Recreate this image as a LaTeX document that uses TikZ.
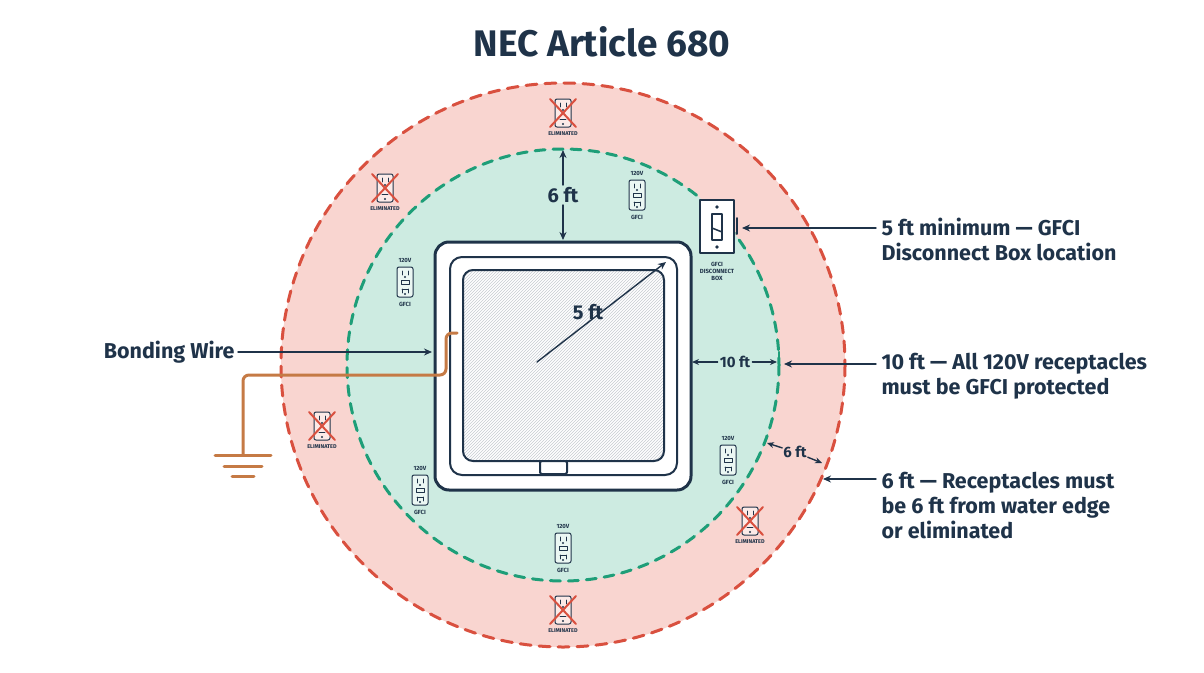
\documentclass[tikz,border=0pt]{standalone}
\usepackage{fontspec}
\setmainfont{Fira Sans}
\usetikzlibrary{arrows.meta,patterns,positioning}
\definecolor{navy}{HTML}{1F3349}
\definecolor{redzone}{HTML}{F9D5D0}
\definecolor{redline}{HTML}{D9503F}
\definecolor{greenzone}{HTML}{CDEBE1}
\definecolor{greenline}{HTML}{1E9E78}
\definecolor{copper}{HTML}{C57A45}
\tikzset{
  dim/.style={navy,line width=1.4pt,-{Stealth[length=8pt,width=7pt]}},
  note/.style={navy,font=\fontsize{21.5}{25}\selectfont\bfseries,align=left,anchor=west},
  tiny/.style={navy,font=\fontsize{6}{7}\selectfont\bfseries,align=center},
  receptacle/.pic={
    \draw[navy,line width=1pt,rounded corners=2pt,fill=white!60!greenzone] (-8,-15) rectangle (8,15);
    \draw[navy,line width=0.9pt] (-3,-11)--(-3,-7) (3,-11)--(3,-7) (-3,7)--(3,7) (-3,11)--(-3,7)
      (3,11)--(3,7);
    \draw[navy,line width=0.9pt] (-4,-2) rectangle (4,2);
    \fill[navy] (0,-5) circle (1.2pt) (0,12) circle (1.2pt);
    \node[tiny] at (0,-22) {120V};
    \node[tiny] at (0,22) {GFCI};
  },
  eliminated/.pic={
    \draw[navy,line width=1pt,rounded corners=2pt,fill=white!50!redzone] (-8,-14) rectangle (8,14);
    \draw[navy,line width=0.9pt] (-3,-10)--(-3,-6) (3,-10)--(3,-6) (-3,6)--(3,6);
    \fill[navy] (0,-3) circle (1.2pt) (0,11) circle (1.2pt);
    \draw[redline,line width=2pt] (-13,-14)--(13,14) (-13,14)--(13,-14);
    \node[tiny,font=\fontsize{5.5}{7}\selectfont\bfseries] at (0,21) {ELIMINATED};
  }
}
\begin{document}
\begin{tikzpicture}[x=1pt,y=-1pt,line cap=round,line join=round]
\useasboundingbox (0,0) rectangle (1204,672);
\node[navy,font=\fontsize{37}{40}\selectfont\bfseries] (title) at (602,42) {NEC Article 680};
% zones
\coordinate (c) at (563,365);
\fill[redzone] (c) circle (282);
\draw[redline,line width=3pt,dash pattern=on 11pt off 8pt] (c) circle (282);
\fill[greenzone] (c) circle (216);
\draw[greenline,line width=3pt,dash pattern=on 10pt off 8pt] (c) circle (216);
% spa
\draw[navy,line width=3pt,fill=white,rounded corners=14pt] (435,242) rectangle (691,490);
\draw[navy,line width=2pt,rounded corners=12pt] (450,257) rectangle (677,475);
\draw[navy,line width=2pt,rounded corners=10pt,fill=navy!6,pattern=north east lines,pattern color=navy!25] (463,270) rectangle (664,461);
\draw[navy,line width=2pt,fill=white,rounded corners=2pt] (540,461) rectangle (567,474);
% bonding wire and ground
\draw[copper,line width=3pt,rounded corners=6pt] (457,333) -- (446,333) -- (446,375) -- (243,375) -- (243,455);
\draw[copper,line width=3pt] (215,455) -- (271,455) (224,466) -- (262,466) (232,476) -- (254,476);
\node[note,anchor=east] (bond) at (238,352) {Bonding Wire};
\coordinate (bondtip) at (432,352);
\draw[dim] (bond) -- (bondtip);
% dimensions
\coordinate (g6top) at (563,150);
\coordinate (tubtop) at (563,240);
\node[navy,font=\fontsize{20}{22}\selectfont\bfseries,fill=greenzone,inner sep=2pt] (six) at (563,195) {6 ft};
\draw[dim] (six) -- (g6top);
\draw[dim] (six) -- (tubtop);
\coordinate (mid) at (537,362);
\coordinate (corner) at (666,262);
\draw[dim] (mid) -- (corner);
\node[navy,font=\fontsize{20}{22}\selectfont\bfseries] (five) at (588,312) {5 ft};
\node[navy,font=\fontsize{15}{16}\selectfont\bfseries,fill=greenzone,inner sep=2pt] (ten) at (735,362) {10 ft};
\coordinate (tubside) at (692,362);
\coordinate (gedge) at (777,362);
\draw[dim,-{Stealth[length=7pt,width=6pt]}] (ten) -- (tubside);
\draw[dim,-{Stealth[length=7pt,width=6pt]}] (ten) -- (gedge);
\draw[greenline,line width=2.5pt] (779,352) -- (779,372);
\node[navy,font=\fontsize{15}{16}\selectfont\bfseries,fill=redzone,inner sep=1pt] (sixb) at (795,452) {6 ft};
\coordinate (gpt) at (767,443);
\coordinate (rpt) at (822,463);
\draw[dim,-{Stealth[length=7pt,width=6pt]}] (sixb) -- (gpt);
\draw[dim,-{Stealth[length=7pt,width=6pt]}] (sixb) -- (rpt);
% receptacles
\pic at (637,195) {receptacle};
\pic at (405,282) {receptacle};
\pic at (420,490) {receptacle};
\pic at (563,548) {receptacle};
\pic at (728,460) {receptacle};
\pic at (563,113) {eliminated};
\pic at (385,188) {eliminated};
\pic at (322,426) {eliminated};
\pic at (750,521) {eliminated};
\pic at (563,610) {eliminated};
% disconnect box
\draw[navy,line width=2.5pt,fill=white] (700,200) rectangle (734,253);
\draw[navy,line width=1.5pt,fill=white] (712,214) rectangle (722,240);
\draw[navy,line width=1.5pt] (712,228) -- (722,232);
\fill[navy] (717,207) circle (1.8pt) (717,247) circle (1.8pt);
\draw[navy,line width=2pt] (737,218) -- (737,234);
\node[tiny] (boxlbl) at (717,271) {GFCI\\DISCONNECT\\BOX};
% notes
\node[note] (n1) at (878,239) {5 ft minimum — GFCI\\Disconnect Box location};
\coordinate (n1tip) at (742,228);
\draw[dim] (n1.west |- n1tip) ++(-2,0) -- (n1tip);
\node[note] (n2) at (878,376) {10 ft — All 120V receptacles\\must be GFCI protected};
\coordinate (n2tip) at (784,364);
\draw[dim] (n2.west |- n2tip) ++(-2,0) -- (n2tip);
\node[note] (n3) at (878,506) {6 ft — Receptacles must\\be 6 ft from water edge\\or eliminated};
\coordinate (n3tip) at (823,479);
\draw[dim] (n3.west |- n3tip) ++(-2,0) -- (n3tip);
\end{tikzpicture}
\end{document}
